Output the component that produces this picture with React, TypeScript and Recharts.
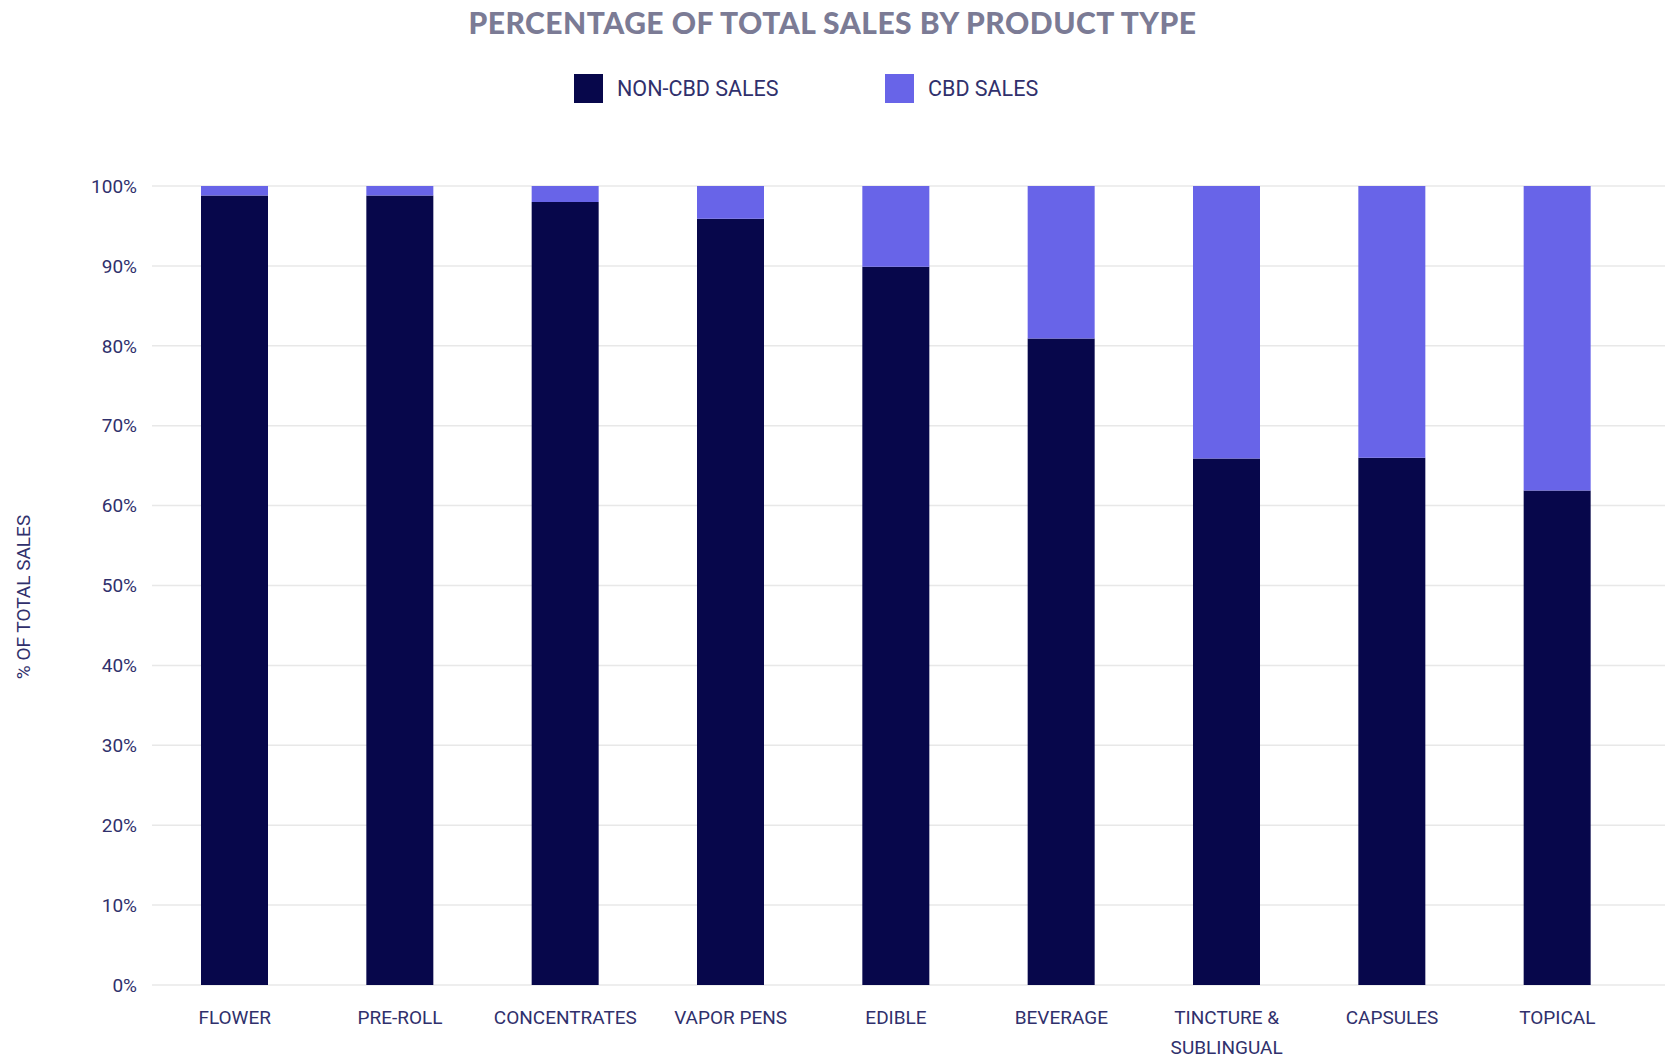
import React from 'react';
import { BarChart, Bar, XAxis, YAxis, CartesianGrid } from 'recharts';

// Data
const CATEGORIES = [
  'FLOWER',
  'PRE-ROLL',
  'CONCENTRATES',
  'VAPOR PENS',
  'EDIBLE',
  'BEVERAGE',
  'TINCTURE &\nSUBLINGUAL',
  'CAPSULES',
  'TOPICAL',
];
const NON_CBD = [98.8, 98.8, 98.0, 95.9, 89.9, 80.9, 65.9, 66.0, 61.9];
const CBD = [1.2, 1.2, 2.0, 4.1, 10.1, 19.1, 34.1, 34.0, 38.1];
const Y_TICKS = [0, 10, 20, 30, 40, 50, 60, 70, 80, 90, 100];

const COLORS = {
  nonCbd: '#07074b',
  cbd: '#6864e8',
  text: '#30306c',
  title: '#7b7b95',
  grid: '#e8e8e8',
};

const FONT = 'Roboto, "Noto Sans", sans-serif';

const chartData = CATEGORIES.map((name, i) => ({
  name,
  nonCbd: NON_CBD[i],
  cbd: CBD[i],
}));

function CategoryTick({ x, y, payload }: any) {
  const lines = String(payload.value).split('\n');
  return (
    <text x={x} y={y} textAnchor="middle" fill={COLORS.text} fontSize={19} fontFamily={FONT}>
      {lines.map((line, i) => (
        <tspan key={i} x={x} dy={i === 0 ? 31 : 30}>
          {line}
        </tspan>
      ))}
    </text>
  );
}

function LegendItem({ color, label, left }: { color: string; label: string; left: number }) {
  return (
    <div style={{ position: 'absolute', left, top: 74, display: 'flex', alignItems: 'center' }}>
      <span style={{ width: 29, height: 29, background: color, display: 'inline-block' }} />
      <span style={{ marginLeft: 14, fontSize: 21.5, color: COLORS.text, fontFamily: FONT }}>{label}</span>
    </div>
  );
}

export default function App() {
  return (
    <div style={{ position: 'relative', width: 1665, height: 1061, background: '#fff', fontFamily: FONT }}>
      <style>{`body{margin:0}`}</style>
      <div
        style={{
          position: 'absolute',
          top: 4,
          left: 0,
          width: 1665,
          textAlign: 'center',
          fontFamily: 'Lato, sans-serif',
          fontWeight: 900,
          fontSize: 30,
          color: COLORS.title,
          letterSpacing: 0.5,
        }}
      >
        PERCENTAGE OF TOTAL SALES BY PRODUCT TYPE
      </div>
      <LegendItem color={COLORS.nonCbd} label="NON-CBD SALES" left={574} />
      <LegendItem color={COLORS.cbd} label="CBD SALES" left={885} />
      <div
        style={{
          position: 'absolute',
          left: 23,
          top: 597,
          transform: 'translate(-50%, -50%) rotate(-90deg)',
          whiteSpace: 'nowrap',
          fontSize: 19,
          color: COLORS.text,
        }}
      >
        % OF TOTAL SALES
      </div>
      <div style={{ position: 'absolute', left: 0, top: 0 }}>
        <BarChart
          width={1665}
          height={1061}
          data={chartData}
          margin={{ top: 186, right: 0, bottom: 0, left: 0 }}
        >
          <CartesianGrid vertical={false} stroke={COLORS.grid} strokeWidth={1.5} />
          <XAxis
            dataKey="name"
            axisLine={false}
            tickLine={false}
            interval={0}
            padding={{ left: 0, right: 25 }}
            tick={<CategoryTick />}
            height={76}
          />
          <YAxis
            width={152}
            domain={[0, 100]}
            ticks={Y_TICKS}
            axisLine={false}
            tickLine={false}
            tickSize={0}
            tickMargin={15}
            tickFormatter={(v: number) => `${v}%`}
            tick={{ fill: COLORS.text, fontSize: 19, fontFamily: FONT }}
          />
          <Bar dataKey="nonCbd" stackId="a" fill={COLORS.nonCbd} barSize={67} isAnimationActive={false} />
          <Bar dataKey="cbd" stackId="a" fill={COLORS.cbd} barSize={67} isAnimationActive={false} />
        </BarChart>
      </div>
    </div>
  );
}
